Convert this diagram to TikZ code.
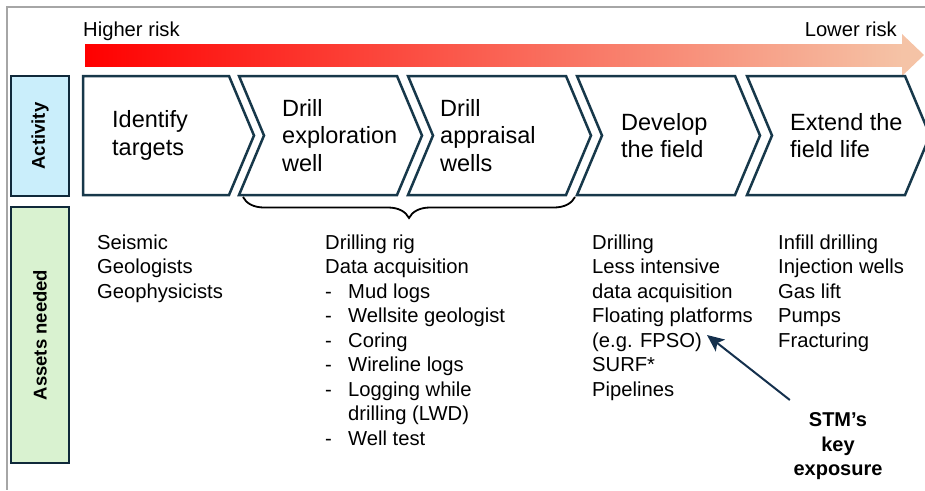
\documentclass[tikz,border=0pt]{standalone}
\usepackage{fontspec}
\setmainfont{Liberation Sans}
\usetikzlibrary{arrows.meta,decorations.pathreplacing}
\definecolor{framegray}{HTML}{A6A6A6}
\definecolor{chevline}{HTML}{17384A}
\definecolor{boxline}{HTML}{10293A}
\definecolor{activityblue}{HTML}{CAEEFB}
\definecolor{assetgreen}{HTML}{D9F2D0}
\definecolor{riskred}{HTML}{FF0000}
\definecolor{riskpeach}{HTML}{F5C3A6}
\definecolor{keynavy}{HTML}{14304D}
\newcommand{\listdash}{\makebox[23pt][l]{-}}
\newcommand{\listgap}{\hspace*{23pt}}
\begin{document}
\begin{tikzpicture}[x=1pt, y=-1pt,
		chevron/.style={draw=chevline, line width=2.5pt, fill=white, line join=miter},
		sidebox/.style={draw=boxline, line width=2pt},
		sidelabel/.style={rotate=90, inner sep=0pt, font=\bfseries\fontsize{18.5}{22}\selectfont},
		steptext/.style={anchor=west, align=left, inner sep=0pt, font=\fontsize{23.5}{27.5}\selectfont},
		listtext/.style={anchor=north west, align=left, inner sep=0pt, font=\fontsize{20.2}{24.5}\selectfont},
		risktext/.style={inner sep=0pt, font=\fontsize{20.2}{22}\selectfont},
		keytext/.style={anchor=north, align=center, inner sep=0pt, font=\bfseries\fontsize{20}{24.5}\selectfont},
		keyarrow/.style={keynavy, line width=2pt, -{Stealth[length=17pt, width=15pt, inset=4pt]}},
		bracestyle/.style={black, line width=1.8pt, decorate, decoration={brace, mirror, amplitude=21pt}}]
		\useasboundingbox (0,0) rectangle (925,490);
		% frame
		\draw[framegray, line width=2.5pt] (925,7) -- (7,7) -- (7,490);
		% risk arrow
		\shade[left color=riskred, right color=riskpeach] (85,44) rectangle (903,66);
		\fill[riskpeach] (902,34) -- (924,55) -- (902,76) -- cycle;
		\node[risktext, anchor=base west] (higher) at (83,36.5) {Higher risk};
		\node[risktext, anchor=base east] (lower) at (897,36.5) {Lower risk};
		% side labels
		\draw[sidebox, fill=activityblue] (11,76) rectangle (69,196);
		\node[sidelabel] (activity) at (40,136) {Activity};
		\draw[sidebox, fill=assetgreen] (11,207) rectangle (69,463);
		\node[sidelabel] (assets) at (40,335) {Assets needed};
		% chevrons
		\draw[chevron] (83,76) -- (229,76) -- (254,135.5) -- (229,195) -- (83,195) -- cycle;
		\foreach \x in {239,408,577,747}
			\draw[chevron] (\x,76) -- (\x+158,76) -- (\x+183,135.5) -- (\x+158,195) -- (\x,195) -- (\x+25,135.5) -- cycle;
		\node[steptext] (identify) at (112,135.5) {Identify\\targets};
		\node[steptext] (explore) at (282,135.5) {Drill\\exploration\\well};
		\node[steptext] (appraise) at (440,135.5) {Drill\\appraisal\\wells};
		\node[steptext] (develop) at (621,135.5) {Develop\\the field};
		\node[steptext] (extend) at (790,135.5) {Extend the\\field life};
		\draw[bracestyle] (243,197) -- (575,197);
		% assets
		\node[listtext] (seismic) at (97,234.5) {Seismic\\Geologists\\Geophysicists};
		\node[listtext] (rig) at (325,234.5) {Drilling rig\\Data acquisition\\\listdash Mud logs\\\listdash Wellsite geologist\\\listdash Coring\\\listdash Wireline logs\\\listdash Logging while\\\listgap drilling (LWD)\\\listdash Well test};
		\node[listtext] (platforms) at (592,234.5) {Drilling\\Less intensive\\data acquisition\\Floating platforms\\(e.g. FPSO)\\SURF*\\Pipelines};
		\node[listtext] (infill) at (778,234.5) {Infill drilling\\Injection wells\\Gas lift\\Pumps\\Fracturing};
		% key exposure
		\node[keytext] (stm) at (838,412.5) {STM’s\\key\\exposure};
		\coordinate (fpso) at (707,335);
		\coordinate (stmtail) at ([shift={(-3.5,-12.5)}]stm.north west);
		\draw[keyarrow] (stmtail) -- (fpso);
	\end{tikzpicture}
\end{document}
